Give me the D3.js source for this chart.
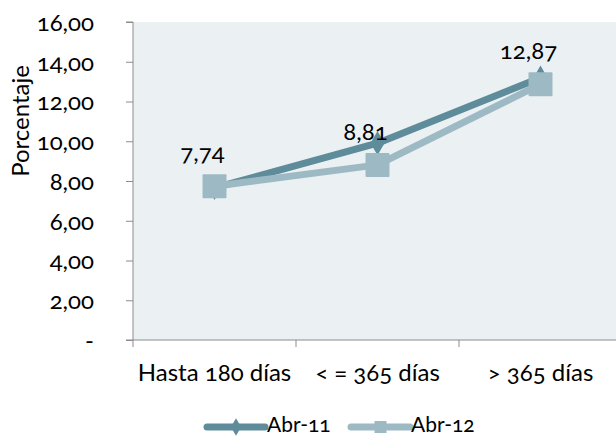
<!DOCTYPE html>
<html><head><meta charset="utf-8">
<script src="https://cdn.jsdelivr.net/npm/d3@7"></script>
<style>body{margin:0;background:#fff}svg{display:block}text{font-family:Lato,"Open Sans",sans-serif;font-variant-numeric:oldstyle-nums}</style>
</head><body><svg id="c" width="616" height="436"></svg>
<script>
const categories = ["Hasta 180 días", "< = 365 días", "> 365 días"];
const seriesNames = ["Abr-11", "Abr-12"];
const abr11 = [7.65, 9.9, 13.2];
const abr12 = [7.74, 8.81, 12.87];
const labels = ["7,74", "8,81", "12,87"];
const yTicks = [0, 2, 4, 6, 8, 10, 12, 14, 16];

const svg = d3.select("#c");
const L = 133, R = 622, T = 22, B = 340;
const FF = 'Lato, "Open Sans", sans-serif';
const x = d3.scaleBand().domain(categories).range([L, R]);
const y = d3.scaleLinear().domain([0, 16]).range([B, T]);
const colors = ["#5E8C9A", "#9DBAC4"];

svg.append("rect").attr("x", L).attr("y", T).attr("width", R - L).attr("height", B - T).attr("fill", "#EBF0F3");

const fmt = v => v === 0 ? "-" : d3.format(".2f")(v).replace(".", ",");
const ya = svg.append("g").attr("transform", `translate(${L},0)`)
  .call(d3.axisLeft(y).tickValues(yTicks).tickFormat(fmt).tickSize(7).tickPadding(32));
ya.attr("font-family", FF);
ya.selectAll("text").attr("font-size", 24).attr("fill", "#000").attr("dy", "0.35em");
ya.selectAll("line,path").attr("stroke", "#8c8c8c");
ya.select("path").attr("d", `M-7,${T}H0V${B}`);

const xa = svg.append("g").attr("transform", `translate(0,${B})`)
  .call(d3.axisBottom(x).tickSize(0).tickPadding(24));
xa.attr("font-family", FF);
xa.selectAll("text").attr("font-size", 24).attr("fill", "#000");
xa.select("path").attr("stroke", "#8c8c8c").attr("d", `M${L - 7},0H${R}`);
const bounds = [...categories.map(c => x(c)), R];
xa.selectAll(".tb").data(bounds).join("line").attr("x1", d => d).attr("x2", d => d)
  .attr("y1", 0).attr("y2", 7).attr("stroke", "#8c8c8c");

svg.append("text").attr("transform", `translate(29,121) rotate(-90)`)
  .attr("text-anchor", "middle").attr("font-size", 24).text("Porcentaje");

const cx = c => x(c) + x.bandwidth() / 2;
const line = d3.line().x((d, i) => cx(categories[i])).y(d => y(d));
[abr11, abr12].forEach((s, k) => {
  svg.append("path").attr("d", line(s)).attr("fill", "none").attr("stroke", colors[k])
    .attr("stroke-width", 7).attr("stroke-linejoin", "round");
});
svg.selectAll(".dia").data(abr11).join("path")
  .attr("d", d3.symbol(d3.symbolDiamond, 170))
  .attr("transform", (d, i) => `translate(${cx(categories[i])},${y(d)})`).attr("fill", colors[0]);
svg.selectAll(".sq").data(abr12).join("rect")
  .attr("x", (d, i) => cx(categories[i]) - 12).attr("y", d => y(d) - 12)
  .attr("width", 24).attr("height", 24).attr("rx", 1).attr("fill", colors[1]);

svg.selectAll(".lbl").data(abr12).join("text")
  .attr("x", (d, i) => cx(categories[i]) - 12).attr("y", d => y(d) - 25)
  .attr("text-anchor", "middle").attr("font-size", 24).text((d, i) => labels[i]);

// legend
const lg = [{x0: 207, x1: 265, tx: 267}, {x0: 351, x1: 410, tx: 411}];
seriesNames.forEach((n, k) => {
  const g = svg.append("g");
  g.append("line").attr("x1", lg[k].x0).attr("x2", lg[k].x1).attr("y1", 427).attr("y2", 427)
    .attr("stroke", colors[k]).attr("stroke-width", 7).attr("stroke-linecap", "round");
  const mx = (lg[k].x0 + lg[k].x1) / 2;
  if (k === 0) g.append("path").attr("d", d3.symbol(d3.symbolDiamond, 90)).attr("transform", `translate(${mx},427)`).attr("fill", colors[0]);
  else g.append("rect").attr("x", mx - 6).attr("y", 421).attr("width", 12).attr("height", 12).attr("fill", colors[1]);
  g.append("text").attr("x", lg[k].tx).attr("y", 432).attr("font-size", 21).text(n);
});
</script></body></html>
